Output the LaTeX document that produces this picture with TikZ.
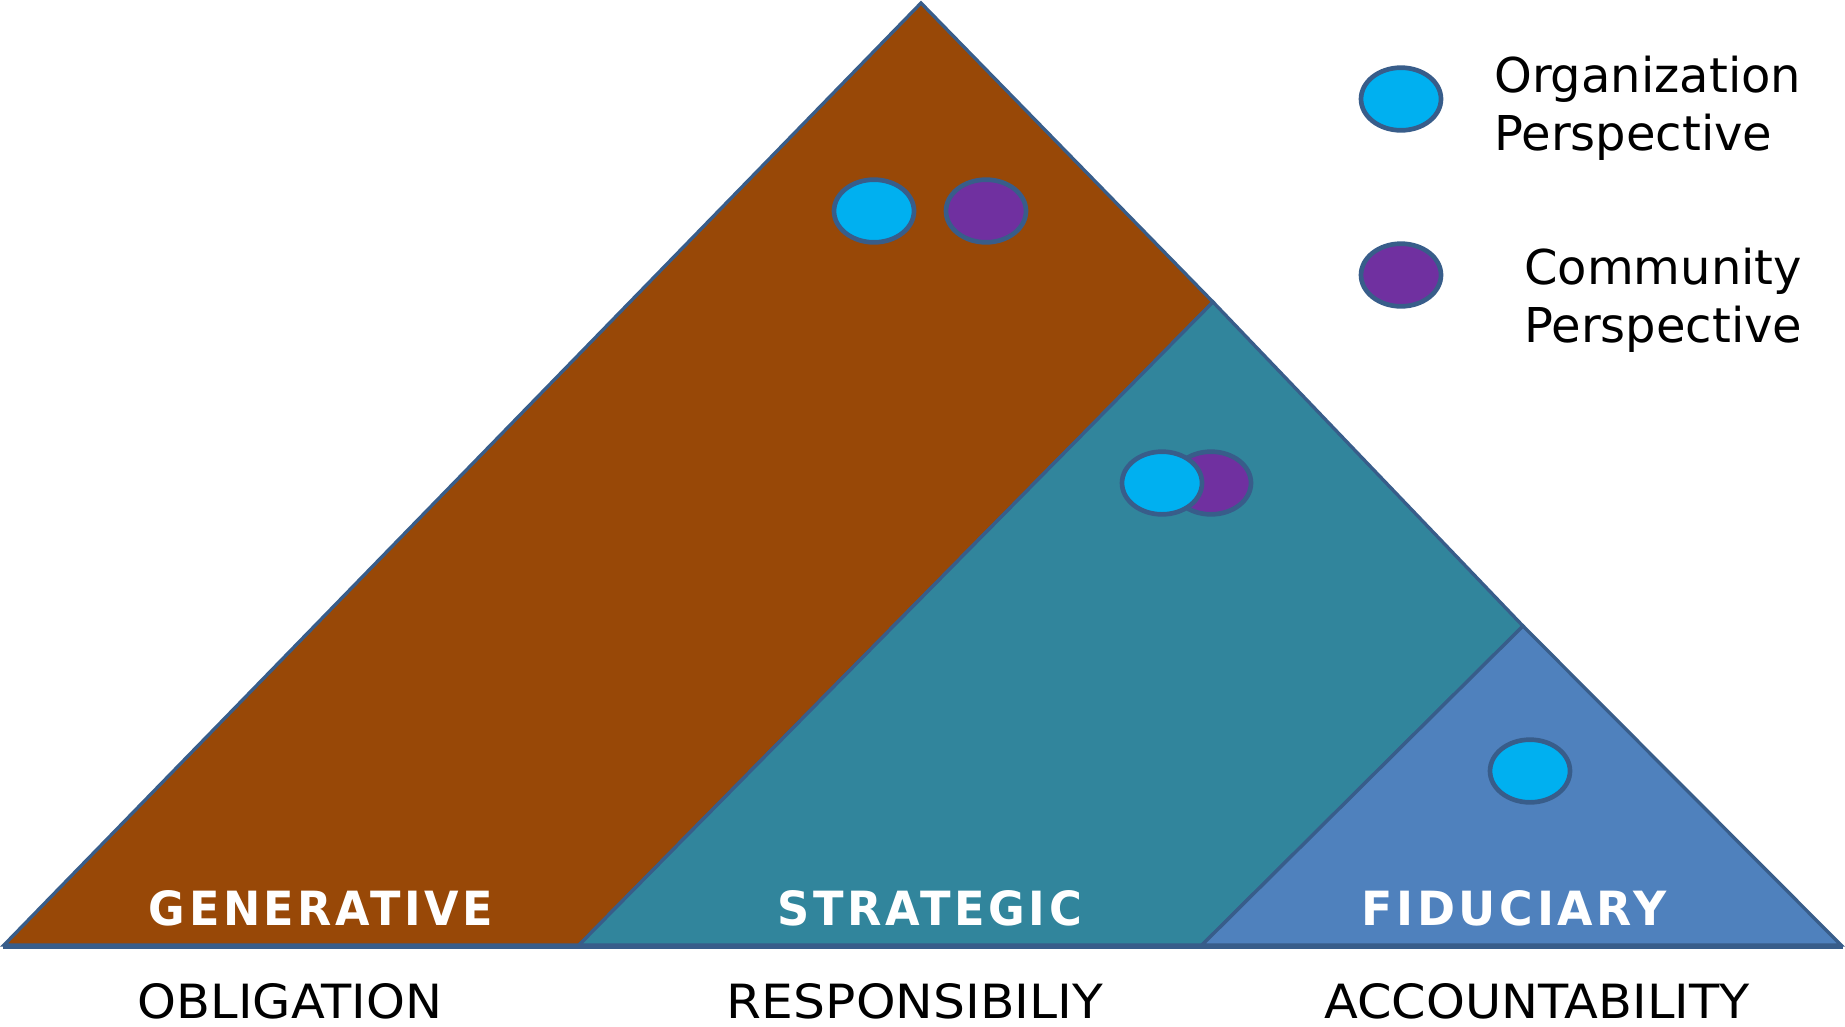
\documentclass[tikz,border=0pt]{standalone}
\usepackage{fontspec}
\setmainfont{DejaVu Sans}
\newfontfamily\spacedfont[LetterSpace=8]{DejaVu Sans}
\usepackage{xcolor}
\usepackage{graphicx}
\usepackage{tikz}
\usetikzlibrary{shapes.geometric}

\definecolor{genbrown}{HTML}{984807}
\definecolor{strteal}{HTML}{31859C}
\definecolor{fidblue}{HTML}{4F81BD}
\definecolor{orgcyan}{HTML}{00B0F0}
\definecolor{compurple}{HTML}{7030A0}
\definecolor{edgeblue}{HTML}{385D8A}

\newlength{\px}
\setlength{\px}{0.75pt}
\newcommand{\fitlabel}[3]{\resizebox{#1\px}{#2\px}{#3}}

\tikzset{
  region/.style={draw=edgeblue, line width=2.5pt, line join=miter},
  perspdot/.style={ellipse, draw=edgeblue, line width=3.5pt, minimum width=60pt, minimum height=47pt, inner sep=0pt},
  orgdot/.style={perspdot, fill=orgcyan},
  comdot/.style={perspdot, fill=compurple},
  levelname/.style={anchor=base, inner sep=0pt, text=white, font=\spacedfont\bfseries},
  dutyname/.style={anchor=base, inner sep=0pt, text=black},
  legendtext/.style={anchor=north west, inner sep=0pt, align=left, font=\fontsize{36}{43.5}\selectfont}
}

\begin{document}
\begin{tikzpicture}[x=0.75pt,y=0.75pt,yscale=-1,xscale=1]
\useasboundingbox (0,0) rectangle (1845,1026);

% corners of the pyramid
\coordinate (apex) at (921,3);
\coordinate (left) at (4,945);
\coordinate (right) at (1841,945);
\coordinate (gsjoin) at (1213,302);
\coordinate (sfjoin) at (1523,626);
\coordinate (gsfoot) at (579,945);
\coordinate (sffoot) at (1202,945);

% Generative band
\draw [region, fill=genbrown] (left) -- (apex) -- (gsjoin) -- (gsfoot) -- cycle;
% Strategic band
\draw [region, fill=strteal] (gsfoot) -- (gsjoin) -- (sfjoin) -- (sffoot) -- cycle;
% Fiduciary band
\draw [region, fill=fidblue] (sffoot) -- (sfjoin) -- (right) -- cycle;
% base line
\draw [draw=edgeblue, line width=3pt] (3,947) -- (1843,947);

% perspectives inside the bands
\node [orgdot] (genorg) at (874,211) {};
\node [comdot] (gencom) at (986,211) {};
\node [comdot] (strcom) at (1211,483) {};
\node [orgdot] (strorg) at (1162,483) {};
\node [orgdot] (fidorg) at (1530,771) {};

% legend
\node [orgdot] (keyorg) at (1401,99) {};
\node [comdot] (keycom) at (1401,275) {};
\node [legendtext] (keyorgtext) at (1494,56) {Organization\\Perspective};
\node [legendtext] (keycomtext) at (1524,248) {Community\\Perspective};

% band names
\node [levelname] (genname) at (321,925) {\fitlabel{344}{35}{GENERATIVE}};
\node [levelname] (strname) at (930,925) {\fitlabel{304}{35}{STRATEGIC}};
\node [levelname] (fidname) at (1514,925) {\fitlabel{305}{35}{FIDUCIARY}};

% duties under the base
\node [dutyname] (genduty) at (290,1018) {\fitlabel{304}{35}{OBLIGATION}};
\node [dutyname] (strduty) at (915,1018) {\fitlabel{376}{35}{RESPONSIBILIY}};
\node [dutyname] (fidduty) at (1537,1018) {\fitlabel{425}{35}{ACCOUNTABILITY}};

\end{tikzpicture}
\end{document}
